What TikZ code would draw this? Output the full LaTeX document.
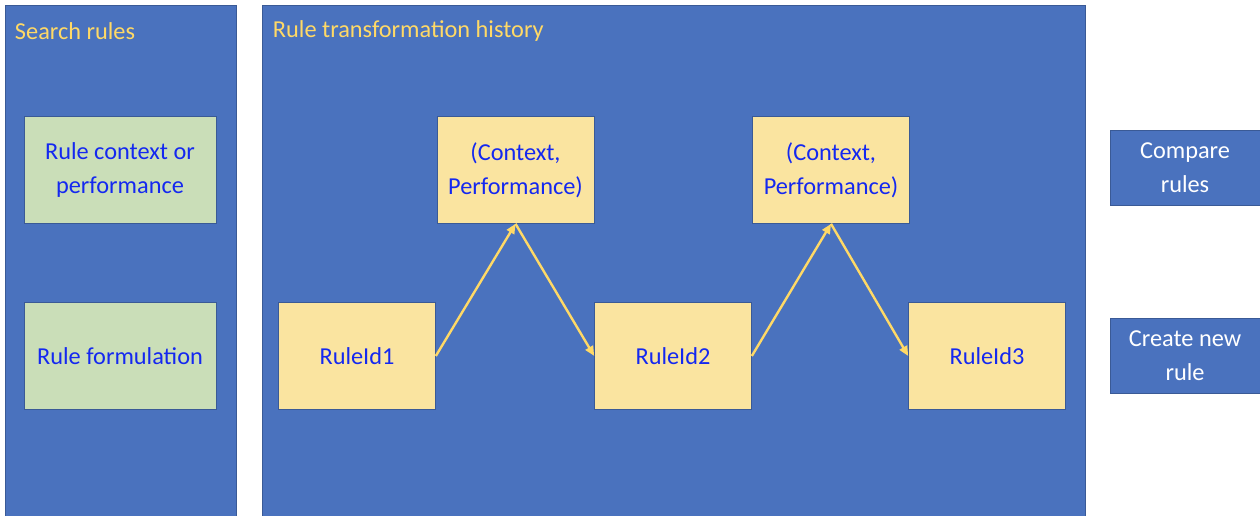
\documentclass[tikz,border=0pt]{standalone}
\usepackage{fontspec}
\setmainfont{Carlito}
\usetikzlibrary{positioning, arrows.meta}
\definecolor{panelblue}{RGB}{74,114,190}
\definecolor{edgeblue}{RGB}{58,90,150}
\definecolor{lightgreen}{RGB}{202,222,184}
\definecolor{lightyellow}{RGB}{250,228,160}
\definecolor{titleyellow}{RGB}{255,217,102}
\definecolor{textblue}{RGB}{20,40,240}
\begin{document}
\begin{tikzpicture}[x=0.025cm,y=-0.025cm,
  panel/.style={fill=panelblue, draw=edgeblue, line width=0.5pt},
  title/.style={anchor=west, text=titleyellow, font=\fontsize{17.3}{24}\selectfont},
  choice/.style={draw=edgeblue, line width=0.4pt, fill=lightgreen, text=textblue, align=center,
    minimum width=4.8cm, minimum height=2.675cm, inner sep=0pt, font=\fontsize{17.3}{24}\selectfont},
  rulebox/.style={draw=edgeblue, line width=0.4pt, fill=lightyellow, text=textblue, align=center,
    minimum width=3.925cm, minimum height=2.675cm, inner sep=0pt, font=\fontsize{17.3}{24}\selectfont},
  action/.style={draw=edgeblue, line width=0.4pt, fill=panelblue, text=white, align=center,
    minimum width=3.75cm, minimum height=1.875cm, inner sep=0pt, font=\fontsize{17.3}{24}\selectfont},
  arr/.style={-{Triangle[length=7pt,width=6pt]}, line width=1.7pt, color=titleyellow}]
  \useasboundingbox (0,0) rectangle (1260,515);
  \clip (0,0) rectangle (1260,515);

  % panels
  \draw[panel] (5,5) rectangle (236,525);
  \draw[panel] (262,5) rectangle (1085,525);
  \node[title] (searchtitle) at (10,31) {Search rules};
  \node[title] (historytitle) at (268,31) {Rule transformation history};

  \node[choice] (context) at (120,170) {Rule context or\\performance};
  \node[choice] (formulation) at (120,356) {Rule formulation};

  % history
  \node[rulebox] (rule1) at (357,356) {RuleId1};
  \node[rulebox] (rule2) at (673,356) {RuleId2};
  \node[rulebox] (rule3) at (987,356) {RuleId3};
  \node[rulebox] (perf1) at (515.5,170) {(Context,\\Performance)};
  \node[rulebox] (perf2) at (831,170) {(Context,\\Performance)};
  \draw[arr] (rule1.east) -- (perf1.south);
  \draw[arr] (perf1.south) -- (rule2.west);
  \draw[arr] (rule2.east) -- (perf2.south);
  \draw[arr] (perf2.south) -- (rule3.west);

  \node[action] (compare) at (1185,168) {Compare\\rules};
  \node[action] (create) at (1185,356) {Create new\\rule};
\end{tikzpicture}
\end{document}
